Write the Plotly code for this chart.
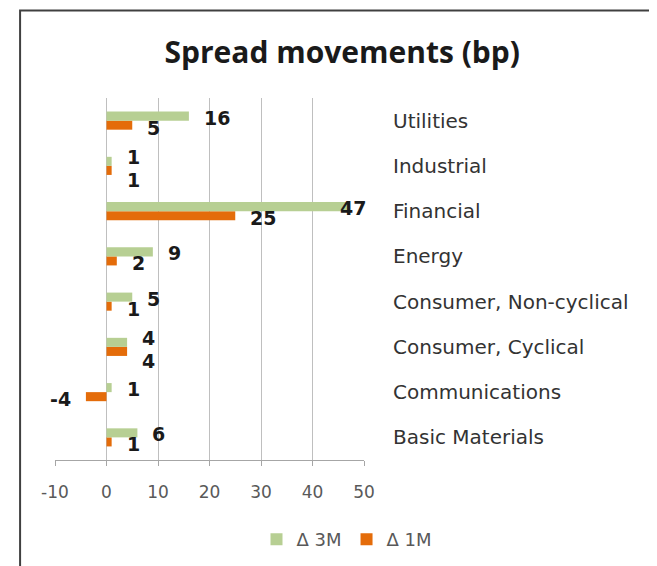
import plotly.graph_objects as go

categories = ["Basic Materials", "Communications", "Consumer, Cyclical",
              "Consumer, Non-cyclical", "Energy", "Financial", "Industrial", "Utilities"]
delta_3m = [6, 1, 4, 5, 9, 47, 1, 16]
delta_1m = [1, -4, 4, 1, 2, 25, 1, 5]
x_ticks = [-10, 0, 10, 20, 30, 40, 50]
x_tick_text = [str(t) for t in x_ticks]

GREEN = "#B7CF93"
ORANGE = "#E46C0A"
LABEL_FONT = dict(family="DejaVu Sans", size=19, color="#1a1a1a")

fig = go.Figure()
fig.add_trace(go.Bar(y=categories, x=delta_1m, orientation="h", name="Δ 1M",
                     marker=dict(color=ORANGE, line=dict(width=0)), legendrank=2))
fig.add_trace(go.Bar(y=categories, x=delta_3m, orientation="h", name="Δ 3M",
                     marker=dict(color=GREEN, line=dict(width=0)), legendrank=1))

xmin, xmax = x_ticks[0], x_ticks[-1]


def add_label(cat, v, yshift):
    if v >= 0:
        if v > xmax - 6:
            fig.add_annotation(x=xmax, y=cat, text=f"<b>{v}</b>", showarrow=False,
                               xanchor="right", xshift=4, yshift=yshift, font=LABEL_FONT)
        else:
            fig.add_annotation(x=v, y=cat, text=f"<b>{v}</b>", showarrow=False,
                               xanchor="left", xshift=13, yshift=yshift, font=LABEL_FONT)
    else:
        fig.add_annotation(x=v, y=cat, text=f"<b>{v}</b>", showarrow=False,
                           xanchor="right", xshift=-13, yshift=yshift, font=LABEL_FONT)


for cat, v3, v1 in zip(categories, delta_3m, delta_1m):
    close = abs(v3 - v1) < 3
    add_label(cat, v3, 9 if close else 3)
    add_label(cat, v1, -14 if close else -7)

fig.update_layout(
    width=649, height=558,
    margin=dict(l=47, r=293, t=90, b=106, autoexpand=False),
    paper_bgcolor="white", plot_bgcolor="white",
    barmode="group", bargap=0.6, bargroupgap=0,
    title=dict(text="<b>Spread movements (bp)</b>", x=0.515, xref="container",
               xanchor="center", y=0.921, yref="container", yanchor="middle",
               font=dict(family="Open Sans", size=30, color="#1a1a1a")),
    xaxis=dict(range=[xmin, xmax], tickvals=x_ticks, ticktext=x_tick_text,
               showgrid=True, gridcolor="#BFBFBF", automargin=False,
               gridwidth=1, zeroline=False, showline=True, linecolor="#A6A6A6",
               ticks="outside", ticklen=5, tickcolor="#A6A6A6",
               tickfont=dict(family="DejaVu Sans", size=17, color="#595959"),
               ticklabelstandoff=12, fixedrange=True),
    yaxis=dict(range=[-0.5, 7.5], side="right", showgrid=False, zeroline=False,
               showline=False, ticks="", ticklabelstandoff=28, automargin=False,
               tickfont=dict(family="DejaVu Sans", size=20, color="#333333")),
    yaxis2=dict(overlaying="y", anchor="free", side="left",
                position=(0 - xmin) / (xmax - xmin), automargin=False,
                range=[-0.5, 7.5], tickvals=[i - 0.5 for i in range(len(categories) + 1)],
                ticks="outside", ticklen=7, tickcolor="#A6A6A6",
                showline=True, linecolor="#A6A6A6", linewidth=1,
                showticklabels=False, showgrid=False, zeroline=False),
    legend=dict(orientation="h", x=0.945, xanchor="center", y=-0.22, yanchor="middle",
                font=dict(family="DejaVu Sans", size=18, color="#595959"),
                itemwidth=30, traceorder="normal"),
    shapes=[dict(type="rect", xref="paper", yref="paper",
                 x0=-0.113, x1=2.1, y0=-0.4, y1=1.242,
                 line=dict(color="#404040", width=2), fillcolor="rgba(0,0,0,0)")],
)

fig.write_html("out.html")
